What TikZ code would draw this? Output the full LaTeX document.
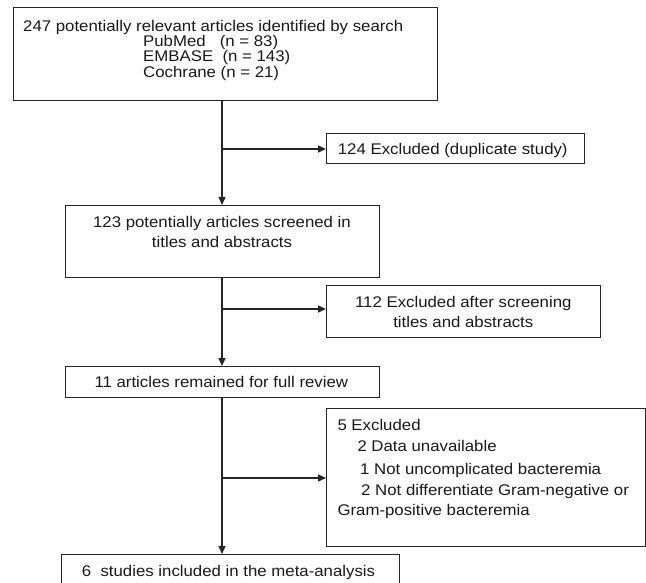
\documentclass[tikz,border=0pt]{standalone}
\usepackage{fontspec}
\setmainfont{Liberation Sans}
\usetikzlibrary{arrows.meta}
\newcommand\sqz[1]{\scalebox{1}[0.92]{#1}}
\tikzset{
  box/.style={draw=black!85, line width=1.4pt, rectangle, inner sep=0pt, anchor=north west},
  txt/.style={inner sep=0pt, font=\fontsize{16.8}{20}\selectfont, text=black!90},
  conn/.style={draw=black!85, line width=1.4pt},
  arr/.style={conn, -{Triangle[length=8pt,width=7pt]}}
}
\begin{document}
\begin{tikzpicture}[x=1pt,y=-1pt]
\useasboundingbox (0,0) rectangle (646,583);
\clip (0,0) rectangle (646,583);
% boxes
\node[box, minimum width=424pt, minimum height=93pt] (b1) at (13,7) {};
\node[box, minimum width=258pt, minimum height=30pt] (b2) at (326,133) {};
\node[box, minimum width=314pt, minimum height=72pt] (b3) at (65,205) {};
\node[box, minimum width=274pt, minimum height=52pt] (b4) at (326,285) {};
\node[box, minimum width=314pt, minimum height=31pt] (b5) at (65,366) {};
\node[box, minimum width=319pt, minimum height=138pt] (b6) at (326,408) {};
\node[box, minimum width=338pt, minimum height=50pt] (b7) at (61,554) {};
% texts
\node[txt, anchor=base west] (t1a) at (23,31.7) {\sqz{247 potentially relevant articles identified by search}};
\node[txt, anchor=base west] (t1b) at (143,46.7) {\sqz{PubMed~~~(n = 83)}};
\node[txt, anchor=base west] (t1c) at (143,62) {\sqz{EMBASE~~(n = 143)}};
\node[txt, anchor=base west] (t1d) at (143,77.3) {\sqz{Cochrane (n = 21)}};
\node[txt, anchor=base west] (t2) at (337.7,155) {\sqz{124 Excluded (duplicate study)}};
\node[txt, anchor=base] (t3a) at (222,228) {\sqz{123 potentially articles screened in}};
\node[txt, anchor=base] (t3b) at (222,247.7) {\sqz{titles and abstracts}};
\node[txt, anchor=base] (t4a) at (463.3,307.7) {\sqz{112 Excluded after screening}};
\node[txt, anchor=base] (t4b) at (463.3,327.3) {\sqz{titles and abstracts}};
\node[txt, anchor=base west] (t5) at (94.3,387) {\sqz{11 articles remained for full review}};
\node[txt, anchor=base west] (t6a) at (337.3,430.7) {\sqz{5 Excluded}};
\node[txt, anchor=base west] (t6b) at (357.3,451) {\sqz{2 Data unavailable}};
\node[txt, anchor=base west] (t6c) at (360,474) {\sqz{1 Not uncomplicated bacteremia}};
\node[txt, anchor=base west] (t6d) at (361,495.3) {\sqz{2 Not differentiate Gram-negative or}};
\node[txt, anchor=base west] (t6e) at (337.3,515) {\sqz{Gram-positive bacteremia}};
\node[txt, anchor=base west] (t7) at (81.7,576) {\sqz{6~~studies included in the meta-analysis}};
% connectors
\coordinate (j1) at (222,149);
\coordinate (j2) at (222,309);
\coordinate (j3) at (222,478);
\draw[arr] (b1.south -| j1) -- (b3.north -| j1);
\draw[arr] (j1) -- (j1 -| b2.west);
\draw[arr] (b3.south -| j2) -- (b5.north -| j2);
\draw[arr] (j2) -- (j2 -| b4.west);
\draw[arr] (b5.south -| j3) -- (b7.north -| j3);
\draw[arr] (j3) -- (j3 -| b6.west);
\end{tikzpicture}
\end{document}
